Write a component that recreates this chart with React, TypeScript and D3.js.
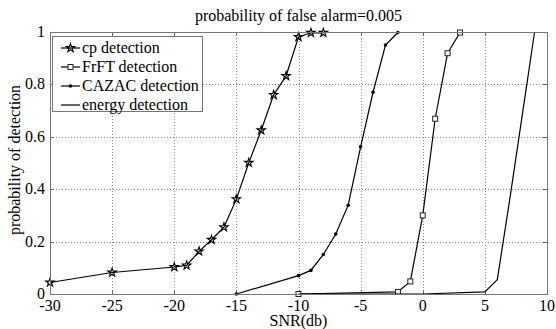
import React from "react";
import * as d3 from "d3";

const W = 556;
const H = 329;

const titleText = "probability of false alarm=0.005";
const xLabelText = "SNR(db)";
const yLabelText = "probability of detection";

const xTicks = [-30, -25, -20, -15, -10, -5, 0, 5, 10];
const yTicks = [0, 0.2, 0.4, 0.6, 0.8, 1];
const yTickLabels = ["0", "0.2", "0.4", "0.6", "0.8", "1"];

const cpSNR = [-30, -25, -20, -19, -18, -17, -16, -15, -14, -13, -12, -11, -10, -9, -8];
const cpPd = [0.044, 0.082, 0.103, 0.109, 0.163, 0.207, 0.255, 0.362, 0.501, 0.625, 0.76, 0.832, 0.981, 0.997, 0.997];

const frftSNR = [-10, -2, -1, 0, 1, 2, 3];
const frftPd = [0, 0.008, 0.048, 0.3, 0.669, 0.919, 0.998];

const cazacSNR = [-15, -10, -9, -8, -7, -6, -5, -4, -3, -2];
const cazacPd = [0, 0.07, 0.09, 0.151, 0.229, 0.339, 0.562, 0.77, 0.95, 0.998];

const energySNR = [-10, 0, 5, 6, 7, 8, 9];
const energyPd = [0, 0, 0.008, 0.055, 0.36, 0.68, 1.0];

const legendLabels = ["cp detection", "FrFT detection", "CAZAC detection", "energy detection"];
const legendMarkers = ["star", "square", "dot", "none"];

const L = 50, R = 547, T = 32, B = 294;
const FONT = "'Liberation Serif', 'Times New Roman', Times, serif";

function Marker({ kind, x, y }: { kind: string; x: number; y: number }) {
  if (kind === "star") {
    const p = d3.symbol().type(d3.symbolStar).size(22)();
    return <path d={p || ""} transform={`translate(${x},${y})`} fill="none" stroke="#000" strokeWidth={1.1} />;
  }
  if (kind === "square") {
    return <rect x={x - 2.5} y={y - 2.5} width={5} height={5} fill="#fff" stroke="#222" strokeWidth={1} />;
  }
  if (kind === "dot") {
    return <circle cx={x} cy={y} r={1.8} fill="#000" />;
  }
  return null;
}

export default function App() {
  const x = d3.scaleLinear().domain([-30, 10]).range([L, R]);
  const y = d3.scaleLinear().domain([0, 1]).range([B, T]);
  const line = d3
    .line<[number, number]>()
    .x((d) => x(d[0]))
    .y((d) => y(d[1]));

  const series = [
    { sx: cpSNR, sy: cpPd, m: "star" },
    { sx: frftSNR, sy: frftPd, m: "square" },
    { sx: cazacSNR, sy: cazacPd, m: "dot" },
    { sx: energySNR, sy: energyPd, m: "none" },
  ];

  const legX = 52, legY = 36, legW = 150, legH = 75;
  const legRowY = [48, 67, 86, 105];
  const ts: React.CSSProperties = { fontFamily: FONT };

  return (
    <svg
      width={W}
      height={H}
      style={{ position: "absolute", left: 0, top: 0, background: "#fff", fontFamily: FONT }}
    >
      <rect x={0} y={0} width={W} height={H} fill="#fff" />
      {/* grid */}
      <g stroke="#8a8a8a" strokeWidth={1} strokeDasharray="1,2">
        {xTicks.slice(1, -1).map((t) => (
          <line key={"gx" + t} x1={Math.round(x(t)) + 0.5} x2={Math.round(x(t)) + 0.5} y1={T} y2={B} />
        ))}
        {yTicks.slice(1, -1).map((t) => (
          <line key={"gy" + t} x1={L} x2={R} y1={Math.round(y(t)) + 0.5} y2={Math.round(y(t)) + 0.5} />
        ))}
      </g>
      {/* ticks */}
      <g stroke="#666" strokeWidth={1}>
        {xTicks.map((t) => (
          <g key={"tx" + t}>
            <line x1={Math.round(x(t)) + 0.5} x2={Math.round(x(t)) + 0.5} y1={B} y2={B - 4} />
            <line x1={Math.round(x(t)) + 0.5} x2={Math.round(x(t)) + 0.5} y1={T} y2={T + 4} />
          </g>
        ))}
        {yTicks.map((t) => (
          <g key={"ty" + t}>
            <line x1={L} x2={L + 4} y1={Math.round(y(t)) + 0.5} y2={Math.round(y(t)) + 0.5} />
            <line x1={R} x2={R - 4} y1={Math.round(y(t)) + 0.5} y2={Math.round(y(t)) + 0.5} />
          </g>
        ))}
      </g>
      {/* series */}
      {series.map((s, i) => {
        const pts = s.sx.map((v, j) => [v, s.sy[j]] as [number, number]);
        return (
          <g key={"s" + i}>
            <path d={line(pts) || ""} fill="none" stroke="#000" strokeWidth={1.2} />
            {pts.map((p, j) => (
              <Marker key={j} kind={s.m} x={x(p[0])} y={y(p[1])} />
            ))}
          </g>
        );
      })}
      {/* axes box */}
      <rect x={L + 0.5} y={T + 0.5} width={R - L} height={B - T} fill="none" stroke="#777" strokeWidth={1} />
      {/* tick labels */}
      <g fontSize={16} fill="#000">
        {xTicks.map((t) => (
          <text key={"lx" + t} x={x(t)} y={311} textAnchor="middle" style={ts}>
            {t}
          </text>
        ))}
        {yTicks.map((t, i) => (
          <text key={"ly" + t} x={45} y={y(t) + 5} textAnchor="end" style={ts}>
            {yTickLabels[i]}
          </text>
        ))}
      </g>
      {/* legend */}
      <rect x={legX + 0.5} y={legY + 0.5} width={legW} height={legH} fill="#fff" stroke="#777" strokeWidth={1} />
      {legendLabels.map((lab, i) => (
        <g key={"lg" + i}>
          <line x1={61} x2={80} y1={legRowY[i]} y2={legRowY[i]} stroke="#000" strokeWidth={1.2} />
          <Marker kind={legendMarkers[i]} x={70.5} y={legRowY[i]} />
          <text x={82} y={legRowY[i] + 5} fontSize={16} fill="#000" style={ts}>
            {lab}
          </text>
        </g>
      ))}
      {/* title and labels */}
      <text x={(L + R) / 2} y={21} textAnchor="middle" fontSize={16} fill="#000" style={ts}>
        {titleText}
      </text>
      <text x={(L + R) / 2} y={326} textAnchor="middle" fontSize={16} fill="#000" style={ts}>
        {xLabelText}
      </text>
      <text transform={`translate(20,160) rotate(-90)`} textAnchor="middle" fontSize={16} fill="#000" style={ts}>
        {yLabelText}
      </text>
    </svg>
  );
}
